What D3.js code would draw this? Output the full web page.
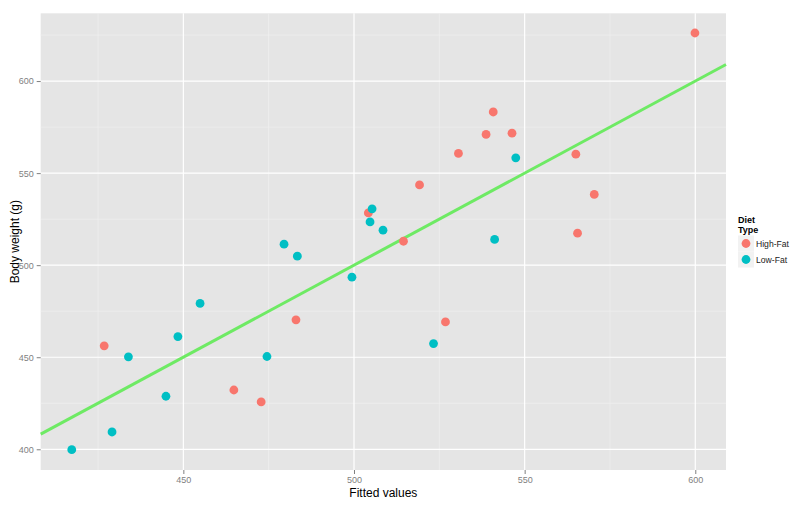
<!DOCTYPE html>
<html>
<head>
<meta charset="utf-8">
<script src="https://cdn.jsdelivr.net/npm/d3@7/dist/d3.min.js"></script>
<style>
  body { margin: 0; background: #fff; }
  svg text { font-family: "Liberation Sans", Arial, sans-serif; }
</style>
</head>
<body>
<svg id="chart" width="800" height="507"></svg>
<script>
var highFatFitted = [599.9, 540.8, 538.7, 546.3, 530.6, 565.0, 519.2, 570.4, 565.5, 514.5, 526.8, 504.2, 426.8, 464.8, 472.8, 483.0];
var highFatWeight = [626.1, 583.2, 571.0, 571.7, 560.7, 560.3, 543.6, 538.4, 517.4, 513.0, 469.2, 528.4, 456.2, 432.2, 425.7, 470.3];
var lowFatFitted = [547.4, 541.2, 505.3, 504.7, 508.5, 479.5, 483.4, 499.4, 523.3, 454.9, 448.4, 433.9, 474.5, 444.9, 429.1, 417.3];
var lowFatWeight = [558.3, 514.0, 530.6, 523.5, 519.0, 511.4, 504.9, 493.5, 457.4, 479.2, 461.2, 450.2, 450.4, 428.8, 409.4, 399.8];
var dietTypes = ["High-Fat", "Low-Fat"];
var dietColors = ["#F8766D", "#00BFC4"];
var xTicks = [450, 500, 550, 600];
var yTicks = [400, 450, 500, 550, 600];
var xMinor = [425, 475, 525, 575];
var yMinor = [425, 475, 525, 575, 625];

var svg = d3.select("#chart");
var pLeft = 40.7, pRight = 726, pTop = 13.3, pBottom = 470;

var x = d3.scaleLinear().domain([408.2, 609.0]).range([pLeft, pRight]);
var y = d3.scaleLinear().domain([388.75, 636.8]).range([pBottom, pTop]);
var color = d3.scaleOrdinal().domain(dietTypes).range(dietColors);

var points = [];
highFatFitted.forEach(function(v, i) { points.push({ x: v, y: highFatWeight[i], diet: "High-Fat" }); });
lowFatFitted.forEach(function(v, i) { points.push({ x: v, y: lowFatWeight[i], diet: "Low-Fat" }); });

svg.append("rect")
  .attr("x", pLeft).attr("y", pTop)
  .attr("width", pRight - pLeft).attr("height", pBottom - pTop)
  .attr("fill", "#E5E5E5");

var grid = svg.append("g");
grid.selectAll(".xminor").data(xMinor).enter().append("line")
  .attr("x1", function(d) { return x(d); }).attr("x2", function(d) { return x(d); })
  .attr("y1", pTop).attr("y2", pBottom)
  .attr("stroke", "#F2F2F2").attr("stroke-width", 0.6);
grid.selectAll(".yminor").data(yMinor).enter().append("line")
  .attr("y1", function(d) { return y(d); }).attr("y2", function(d) { return y(d); })
  .attr("x1", pLeft).attr("x2", pRight)
  .attr("stroke", "#F2F2F2").attr("stroke-width", 0.6);
grid.selectAll(".xmajor").data(xTicks).enter().append("line")
  .attr("x1", function(d) { return x(d); }).attr("x2", function(d) { return x(d); })
  .attr("y1", pTop).attr("y2", pBottom)
  .attr("stroke", "#fff").attr("stroke-width", 1.2);
grid.selectAll(".ymajor").data(yTicks).enter().append("line")
  .attr("y1", function(d) { return y(d); }).attr("y2", function(d) { return y(d); })
  .attr("x1", pLeft).attr("x2", pRight)
  .attr("stroke", "#fff").attr("stroke-width", 1.2);

// axes
var xAxis = svg.append("g").attr("transform", "translate(0," + pBottom + ")")
  .call(d3.axisBottom(x).tickValues(xTicks).tickSize(4).tickPadding(3));
var yAxis = svg.append("g").attr("transform", "translate(" + pLeft + ",0)")
  .call(d3.axisLeft(y).tickValues(yTicks).tickSize(4).tickPadding(3));
[xAxis, yAxis].forEach(function(a) {
  a.select(".domain").remove();
  a.selectAll(".tick line").attr("stroke", "#7F7F7F");
  a.selectAll(".tick text").attr("fill", "#7F7F7F").style("font-size", "9px");
});

// identity line
svg.append("line")
  .attr("x1", x(408.2)).attr("y1", y(408.2))
  .attr("x2", x(609.0)).attr("y2", y(609.0))
  .attr("stroke", "#6EEA64").attr("stroke-width", 3);

svg.append("g").selectAll("circle").data(points).enter().append("circle")
  .attr("cx", function(d) { return x(d.x); })
  .attr("cy", function(d) { return y(d.y); })
  .attr("r", 4.4)
  .attr("fill", function(d) { return color(d.diet); });

svg.append("text")
  .attr("x", (pLeft + pRight) / 2).attr("y", 497)
  .attr("text-anchor", "middle").style("font-size", "12px")
  .text("Fitted values");
svg.append("text")
  .attr("transform", "translate(19," + ((pTop + pBottom) / 2) + ") rotate(-90)")
  .attr("text-anchor", "middle").style("font-size", "12px")
  .text("Body weight (g)");

// legend
var legend = svg.append("g").attr("transform", "translate(738,0)");
legend.append("text").attr("x", 0).attr("y", 223)
  .style("font-size", "9px").style("font-weight", "bold").text("Diet");
legend.append("text").attr("x", 0).attr("y", 233)
  .style("font-size", "9px").style("font-weight", "bold").text("Type");
var items = legend.selectAll(".item").data(dietTypes).enter().append("g")
  .attr("transform", function(d, i) { return "translate(0," + (235.5 + i * 16) + ")"; });
items.append("rect").attr("width", 16).attr("height", 16).attr("fill", "#F2F2F2");
items.append("circle").attr("cx", 8).attr("cy", 8).attr("r", 4.4)
  .attr("fill", function(d) { return color(d); });
items.append("text").attr("x", 18).attr("y", 11.3)
  .style("font-size", "8.6px").attr("fill", "#222").text(function(d) { return d; });
</script>
</body>
</html>
